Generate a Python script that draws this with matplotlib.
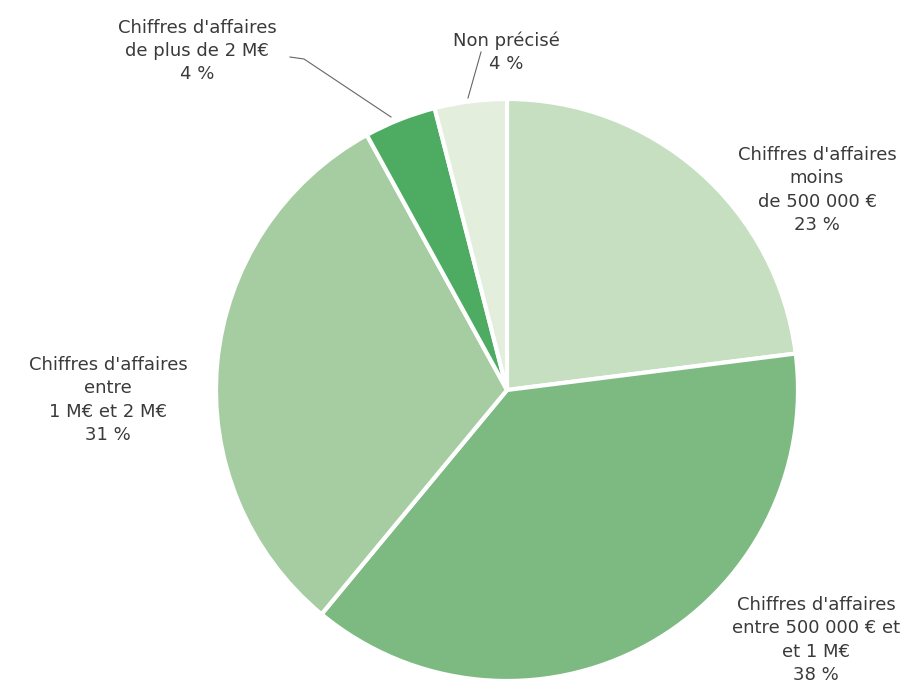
import matplotlib
from matplotlib import pyplot as plt

# données
labels = ["Chiffres d'affaires\nmoins\nde 500 000 €\n23 %",
          "Chiffres d'affaires\nentre 500 000 € et\net 1 M€\n38 %",
          "Chiffres d'affaires\nentre\n1 M€ et 2 M€\n31 %",
          "Chiffres d'affaires\nde plus de 2 M€\n4 %",
          "Non précisé\n4 %"]
parts = [23, 38, 31, 4, 4]
colors = ["#c5dfc0", "#7dba81", "#a5cda1", "#4dac62", "#e4eedd"]

plt.rcParams['font.family'] = ['DejaVu Sans']

fig = plt.figure(figsize=(9.23, 6.9), dpi=100)
ax = fig.add_axes([0, 0, 1, 1])
ax.set_xlim(0, 923)
ax.set_ylim(0, 690)
ax.axis('off')

# camembert (y compté depuis le bas)
ax.pie(parts, colors=colors, startangle=90, counterclock=False,
       center=(507, 300), radius=291,
       wedgeprops=dict(edgecolor='white', linewidth=3))
ax.set_xlim(0, 923)
ax.set_ylim(0, 690)

# étiquettes
txt = dict(ha='center', va='center', fontsize=13, color='#3a3a3a', linespacing=1.36)
ax.text(817, 690 - 190, labels[0], **txt)
ax.text(816, 690 - 640, labels[1], **txt)
ax.text(108, 690 - 400, labels[2], **txt)
ax.text(197, 690 - 51, labels[3], **txt)
ax.text(506, 690 - 52, labels[4], **txt)

# lignes de rappel
ax.plot([290, 304, 391], [690 - 57, 690 - 59, 690 - 117], color='#666666', lw=0.8)
ax.plot([468, 481], [690 - 98, 690 - 52], color='#666666', lw=0.8)

plt.savefig("out.png", dpi=100)
